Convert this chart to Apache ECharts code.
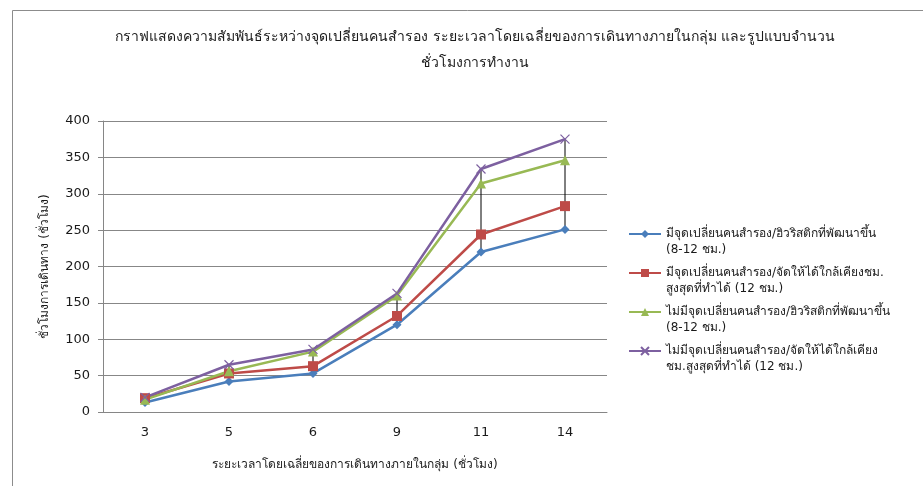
<!DOCTYPE html>
<html>
<head>
<meta charset="utf-8">
<script src="https://cdn.jsdelivr.net/npm/echarts@6/dist/echarts.min.js"></script>
<style>
  html, body { margin: 0; padding: 0; background: #fff; }
  #chart { width: 923px; height: 486px; }
</style>
</head>
<body>
<div id="chart"></div>
<script>
// ระยะเวลาโดยเฉลี่ยของการเดินทาง (ชั่วโมง)
const categories = ['3', '5', '6', '9', '11', '14'];

const seriesNames = [
  'มีจุดเปลี่ยนคนสำรอง/ฮิวริสติกที่พัฒนาขึ้น (8-12 ชม.)',
  'มีจุดเปลี่ยนคนสำรอง/จัดให้ได้ใกล้เคียงชม.สูงสุดที่ทำได้ (12 ชม.)',
  'ไม่มีจุดเปลี่ยนคนสำรอง/ฮิวริสติกที่พัฒนาขึ้น (8-12 ชม.)',
  'ไม่มีจุดเปลี่ยนคนสำรอง/จัดให้ได้ใกล้เคียงชม.สูงสุดที่ทำได้ (12 ชม.)'
];
// legend shows the names broken over two lines
const legendLines = [
  ['มีจุดเปลี่ยนคนสำรอง/ฮิวริสติกที่พัฒนาขึ้น', '(8-12 ชม.)'],
  ['มีจุดเปลี่ยนคนสำรอง/จัดให้ได้ใกล้เคียงชม.', 'สูงสุดที่ทำได้ (12 ชม.)'],
  ['ไม่มีจุดเปลี่ยนคนสำรอง/ฮิวริสติกที่พัฒนาขึ้น', '(8-12 ชม.)'],
  ['ไม่มีจุดเปลี่ยนคนสำรอง/จัดให้ได้ใกล้เคียง', 'ชม.สูงสุดที่ทำได้ (12 ชม.)']
];

const withSwapHeuristic = [13, 42, 53, 120, 220, 251];
const withSwapMax12 = [19, 53, 63, 132, 244, 283];
const noSwapHeuristic = [17, 56, 83, 160, 314, 346];
const noSwapMax12 = [20, 65, 86, 163, 334, 375];

const yTicks = { min: 0, max: 400, interval: 50 };

const colors = ['#4a7ebb', '#be4b48', '#98b954', '#7d60a0'];
const font = "Tahoma, 'DejaVu Sans', 'Noto Sans', sans-serif";

let allSeries = [withSwapHeuristic, withSwapMax12, noSwapHeuristic, noSwapMax12];

// high-low lines between smallest and largest value of each category
let hiLo = [];
for (let i = 0; i < categories.length; i++) {
  let vals = allSeries.map(s => s[i]);
  hiLo.push([i, Math.min(...vals), Math.max(...vals)]);
}

let chart = echarts.init(document.getElementById('chart'));

let option = {
  animation: false,
  backgroundColor: '#fff',
  title: {
    text: 'กราฟแสดงความสัมพันธ์ระหว่างจุดเปลี่ยนคนสำรอง ระยะเวลาโดยเฉลี่ยของการเดินทางภายในกลุ่ม และรูปแบบจำนวน\nชั่วโมงการทำงาน',
    left: 470,
    top: 19,
    textAlign: 'center',
    textStyle: {
      fontFamily: font,
      fontSize: 14,
      fontWeight: 'normal',
      color: '#1a1a1a',
      lineHeight: 26
    }
  },
  legend: {
    orient: 'vertical',
    left: 623,
    top: 205,
    itemWidth: 32,
    itemHeight: 10,
    itemGap: -9,
    data: seriesNames,
    // empty first line so the icon sits beside the first line of text
    formatter: function (name) {
      let l = legendLines[seriesNames.indexOf(name)];
      return ' \n' + l[0] + '\n' + l[1];
    },
    textStyle: {
      fontFamily: font,
      fontSize: 12,
      color: '#1a1a1a',
      lineHeight: 16
    }
  },
  grid: {
    left: 103,
    right: 316,
    top: 121,
    bottom: 74
  },
  xAxis: {
    type: 'category',
    data: categories,
    boundaryGap: true,
    name: 'ระยะเวลาโดยเฉลี่ยของการเดินทางภายในกลุ่ม (ชั่วโมง)',
    nameLocation: 'middle',
    nameGap: 47,
    nameTextStyle: { fontFamily: font, fontSize: 12, color: '#1a1a1a' },
    axisLine: { lineStyle: { color: '#868686', width: 1 } },
    axisTick: { show: false },
    axisLabel: { margin: 14, fontFamily: font, fontSize: 13, color: '#1a1a1a' }
  },
  yAxis: {
    type: 'value',
    min: yTicks.min,
    max: yTicks.max,
    interval: yTicks.interval,
    name: 'ชั่วโมงการเดินทาง (ชั่วโมง)',
    nameLocation: 'middle',
    nameGap: 52,
    nameTextStyle: { fontFamily: font, fontSize: 12, color: '#1a1a1a' },
    axisLine: { show: true, lineStyle: { color: '#868686', width: 1 } },
    axisTick: { show: true, length: 5, inside: false, lineStyle: { color: '#868686' } },
    axisLabel: { margin: 13, fontFamily: font, fontSize: 13, color: '#1a1a1a' },
    splitLine: { lineStyle: { color: '#878787', width: 1.2 } }
  },
  graphic: [
    // chart frame (left and top edge visible in the screenshot)
    { type: 'line', shape: { x1: 12.5, y1: 10.5, x2: 923, y2: 10.5 }, style: { stroke: '#8c8c8c', lineWidth: 1 } },
    { type: 'line', shape: { x1: 12.5, y1: 10.5, x2: 12.5, y2: 486 }, style: { stroke: '#8c8c8c', lineWidth: 1 } }
  ],
  series: [
    {
      type: 'custom',
      name: 'hilo',
      data: hiLo,
      z: 1,
      renderItem: function (params, api) {
        let lo = api.coord([api.value(0), api.value(1)]);
        let hi = api.coord([api.value(0), api.value(2)]);
        return {
          type: 'line',
          shape: { x1: lo[0], y1: lo[1], x2: hi[0], y2: hi[1] },
          style: { stroke: '#000', lineWidth: 1 }
        };
      }
    },
    {
      name: seriesNames[0],
      type: 'line',
      data: withSwapHeuristic,
      symbol: 'diamond',
      symbolSize: 9,
      itemStyle: { color: colors[0] },
      lineStyle: { width: 2.5, color: colors[0] },
      z: 2
    },
    {
      name: seriesNames[1],
      type: 'line',
      data: withSwapMax12,
      symbol: 'rect',
      symbolSize: 10,
      itemStyle: { color: colors[1] },
      lineStyle: { width: 2.5, color: colors[1] },
      z: 2
    },
    {
      name: seriesNames[2],
      type: 'line',
      data: noSwapHeuristic,
      symbol: 'triangle',
      symbolSize: 10,
      itemStyle: { color: colors[2] },
      lineStyle: { width: 2.5, color: colors[2] },
      z: 2
    },
    {
      name: seriesNames[3],
      type: 'line',
      data: noSwapMax12,
      symbol: 'path://M0,0L10,10M10,0L0,10',
      symbolSize: 9,
      itemStyle: { color: colors[3], borderColor: colors[3], borderWidth: 1.2 },
      lineStyle: { width: 2.5, color: colors[3] },
      z: 2
    }
  ]
};

chart.setOption(option);
</script>
</body>
</html>
